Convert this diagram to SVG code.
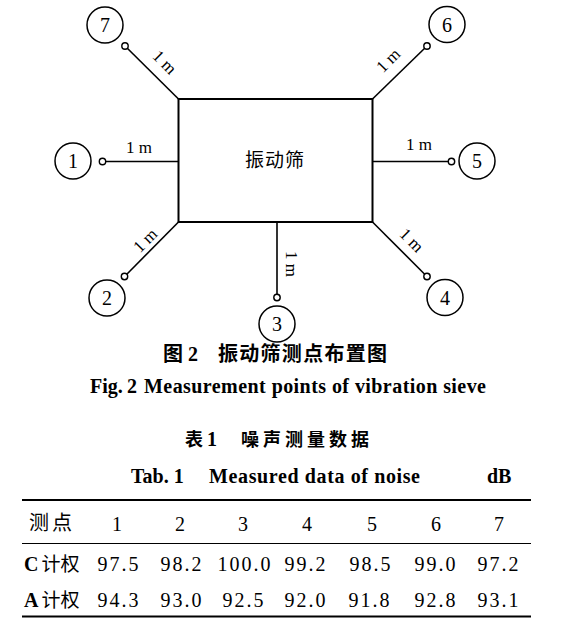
<svg xmlns="http://www.w3.org/2000/svg" width="573" height="641" viewBox="0 0 573 641">
<style>
.ln{stroke:#000;stroke-width:1.6;fill:none}
.box{stroke:#000;stroke-width:2;fill:none}
.big{fill:#fff;stroke:#000;stroke-width:1.5}
.pt{fill:#fff;stroke:#000;stroke-width:1.4}
.num{font-family:"Liberation Serif",serif;font-size:20px;text-anchor:middle;fill:#000}
.lab{font-family:"Liberation Serif",serif;font-size:17px;text-anchor:middle;fill:#000}
.cjk{font-family:"Noto Sans CJK SC",sans-serif;fill:#000}
.tb{font-family:"Liberation Serif",serif;font-weight:bold;font-size:20px;fill:#000}
.d{font-family:"Liberation Serif",serif;font-size:20px;text-anchor:middle;letter-spacing:2px;fill:#000}
.rule{stroke:#000;stroke-width:2.2}
.thin{stroke:#000;stroke-width:1}
</style>
<g id="connectors">
<line class="ln" x1="127.3" y1="48.3" x2="178.5" y2="99"/>
<line class="ln" x1="424.7" y1="48.3" x2="372.5" y2="99"/>
<line class="ln" x1="105.7" y1="161.5" x2="178.5" y2="161.5"/>
<line class="ln" x1="448.3" y1="161.5" x2="372.5" y2="161.5"/>
<line class="ln" x1="126.8" y1="274.2" x2="178.5" y2="222"/>
<line class="ln" x1="424.7" y1="274.2" x2="372.5" y2="222"/>
<line class="ln" x1="277" y1="222" x2="277" y2="294.3"/>
<text class="lab" transform="translate(165,62) rotate(45)" y="6">1 m</text>
<text class="lab" transform="translate(388,60) rotate(-45)" y="6">1 m</text>
<text class="lab" x="139" y="153">1 m</text>
<text class="lab" x="419" y="150">1 m</text>
<text class="lab" transform="translate(145,240) rotate(-45)" y="6">1 m</text>
<text class="lab" transform="translate(412,240) rotate(45)" y="6">1 m</text>
<text class="lab" transform="translate(292,264) rotate(90)" y="6">1 m</text>
</g>
<g id="sieve">
<rect class="box" x="178.5" y="99" width="194" height="123"/>
<text class="cjk" x="275" y="167" font-size="19" text-anchor="middle" letter-spacing="1">振动筛</text>
</g>
<g id="p1"><circle class="big" cx="73" cy="161" r="18"/><circle class="pt" cx="102.5" cy="161.5" r="3.2"/><text class="num" x="73" y="168">1</text></g>
<g id="p2"><circle class="big" cx="107" cy="298" r="18"/><circle class="pt" cx="124.5" cy="276.5" r="3.2"/><text class="num" x="107" y="305">2</text></g>
<g id="p3"><circle class="big" cx="277" cy="324" r="18"/><circle class="pt" cx="277" cy="297.5" r="3.2"/><text class="num" x="277" y="331">3</text></g>
<g id="p4"><circle class="big" cx="445" cy="297.5" r="18"/><circle class="pt" cx="427" cy="276.5" r="3.2"/><text class="num" x="445" y="304.5">4</text></g>
<g id="p5"><circle class="big" cx="477" cy="161" r="18"/><circle class="pt" cx="451.5" cy="161.5" r="3.2"/><text class="num" x="477" y="168">5</text></g>
<g id="p6"><circle class="big" cx="447" cy="24.5" r="18"/><circle class="pt" cx="427" cy="46" r="3.2"/><text class="num" x="447" y="31.5">6</text></g>
<g id="p7"><circle class="big" cx="105" cy="25" r="18"/><circle class="pt" cx="125" cy="46" r="3.2"/><text class="num" x="105" y="32">7</text></g>
<g id="captions">
<text class="cjk" x="163" y="361" font-size="20" font-weight="bold">图</text>
<text class="tb" x="188" y="361">2</text>
<text class="cjk" x="218" y="361" font-size="20" font-weight="bold" textLength="169" lengthAdjust="spacing">振动筛测点布置图</text>
<text class="tb" x="90" y="393">Fig.</text>
<text class="tb" x="127" y="393">2</text>
<text class="tb" x="144" y="393" textLength="342" lengthAdjust="spacing">Measurement points of vibration sieve</text>
<text class="cjk" x="185" y="446" font-size="18" font-weight="bold">表</text>
<text class="tb" x="207" y="446">1</text>
<text class="cjk" x="241" y="446" font-size="18" font-weight="bold" textLength="128" lengthAdjust="spacing">噪声测量数据</text>
<text class="tb" x="131" y="483">Tab. 1</text>
<text class="tb" x="209" y="483" textLength="211" lengthAdjust="spacing">Measured data of noise</text>
<text class="tb" x="487" y="483">dB</text>
</g>
<g id="table">
<line class="rule" x1="22" y1="500" x2="531" y2="500"/>
<line class="thin" x1="22" y1="543.5" x2="531" y2="543.5"/>
<line class="rule" x1="22" y1="616.5" x2="531" y2="616.5"/>
<text class="cjk" x="29" y="530" font-size="20" letter-spacing="3">测点</text>
<text class="d" x="118" y="531">1</text>
<text class="d" x="181" y="531">2</text>
<text class="d" x="244" y="531">3</text>
<text class="d" x="308" y="531">4</text>
<text class="d" x="373" y="531">5</text>
<text class="d" x="437" y="531">6</text>
<text class="d" x="500" y="531">7</text>
<text x="24" y="571"><tspan class="tb" style="font-size:20px">C</tspan><tspan class="cjk" font-size="19" dx="3">计权</tspan></text>
<text class="d" x="119" y="571">97.5</text>
<text class="d" x="182" y="571">98.2</text>
<text class="d" x="245" y="571">100.0</text>
<text class="d" x="306" y="571">99.2</text>
<text class="d" x="371" y="571">98.5</text>
<text class="d" x="436" y="571">99.0</text>
<text class="d" x="499" y="571">97.2</text>
<text x="24" y="607"><tspan class="tb" style="font-size:20px">A</tspan><tspan class="cjk" font-size="19" dx="3">计权</tspan></text>
<text class="d" x="119" y="607">94.3</text>
<text class="d" x="182" y="607">93.0</text>
<text class="d" x="244" y="607">92.5</text>
<text class="d" x="306" y="607">92.0</text>
<text class="d" x="370" y="607">91.8</text>
<text class="d" x="436" y="607">92.8</text>
<text class="d" x="499" y="607">93.1</text>
</g>
</svg>
